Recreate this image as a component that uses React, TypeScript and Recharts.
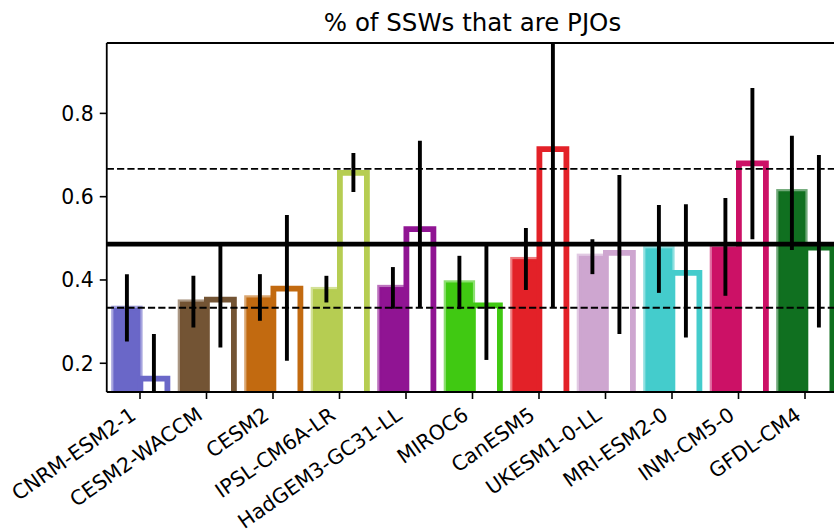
import React from "react";
import { BarChart, Bar, XAxis, YAxis, ErrorBar, ReferenceLine } from "recharts";

const MODELS = [
  "CNRM-ESM2-1",
  "CESM2-WACCM",
  "CESM2",
  "IPSL-CM6A-LR",
  "HadGEM3-GC31-LL",
  "MIROC6",
  "CanESM5",
  "UKESM1-0-LL",
  "MRI-ESM2-0",
  "INM-CM5-0",
  "GFDL-CM4",
];

const COLORS = [
  "#6a67c8",
  "#735434",
  "#c26a10",
  "#b6cd52",
  "#901493",
  "#40c912",
  "#e32128",
  "#cea6d0",
  "#44cccc",
  "#cc1166",
  "#107020",
];

// solid bars and their [low, high] error spans
const SOLID = [0.333, 0.348, 0.358, 0.378, 0.383, 0.394, 0.45, 0.458, 0.476, 0.479, 0.613];
const SOLID_ERR: [number, number][] = [
  [0.081, 0.081], [0.062, 0.062], [0.056, 0.056], [0.032, 0.032], [0.052, 0.048],
  [0.064, 0.064], [0.074, 0.075], [0.044, 0.04], [0.107, 0.104], [0.117, 0.118],
  [0.141, 0.133],
];

// hollow bars and their [low, high] error spans
const HOLLOW = [0.163, 0.353, 0.379, 0.657, 0.522, 0.339, 0.714, 0.465, 0.417, 0.68, 0.478];
const HOLLOW_ERR: [number, number][] = [
  [0.107, 0.107], [0.115, 0.129], [0.173, 0.177], [0.046, 0.048], [0.188, 0.212],
  [0.131, 0.143], [0.38, 0.38], [0.195, 0.187], [0.155, 0.165], [0.182, 0.181],
  [0.192, 0.222],
];

const Y_TICKS = [0.2, 0.4, 0.6, 0.8];
const Y_MIN = 0.131;
const Y_MAX = 0.969;
const MEAN_LINE = 0.486;
const THIRDS = [1 / 3, 2 / 3];

const FONT = "'DejaVu Sans', sans-serif";
const PLOT = { left: 106.75, top: 43, width: 731.5, height: 349 };

const data = MODELS.map((model, i) => ({
  model,
  solid: SOLID[i],
  solidErr: SOLID_ERR[i],
  hollow: HOLLOW[i],
  hollowErr: HOLLOW_ERR[i],
}));

function SolidShape(props: any) {
  const { x, y, width, height, index } = props;
  const c = COLORS[index];
  return (
    <rect
      x={x}
      y={y}
      width={width}
      height={height + 12}
      fill={c}
      stroke={c}
      strokeOpacity={0.6}
      strokeWidth={4.4}
    />
  );
}

function HollowShape(props: any) {
  const { x, y, width, height, index } = props;
  const bottom = y + height + 12;
  return (
    <path
      d={`M${x},${bottom} V${y} H${x + width} V${bottom}`}
      fill="none"
      stroke={COLORS[index]}
      strokeWidth={5.8}
      strokeLinejoin="miter"
    />
  );
}

function ModelTick(props: any) {
  const { x, payload } = props;
  return (
    <g transform={`translate(${x - 2.6},418)`}>
      <text
        textAnchor="end"
        transform="rotate(-35)"
        fontSize={20.4}
        fontFamily={FONT}
        fill="#000"
      >
        {payload.value}
      </text>
    </g>
  );
}

export default function App() {
  return (
    <div
      style={{
        position: "absolute",
        left: 0,
        top: 0,
        width: 834,
        height: 531,
        overflow: "hidden",
        background: "#fff",
      }}
    >
      <svg width={0} height={0} style={{ position: "absolute" }}>
        <defs>
          <clipPath id="plot-clip" clipPathUnits="userSpaceOnUse">
            <rect x={PLOT.left} y={PLOT.top} width={PLOT.width} height={PLOT.height} />
          </clipPath>
        </defs>
      </svg>
      <BarChart
        width={850}
        height={531}
        data={data}
        margin={{ top: 43, right: 11.75, bottom: 0, left: 0 }}
        barCategoryGap="10%"
        barGap={0}
      >
        <XAxis
          dataKey="model"
          interval={0}
          tick={(p: any) => <ModelTick {...p} />}
          tickSize={7}
          height={139}
          axisLine={{ stroke: "#000", strokeWidth: 1.8 }}
          tickLine={{ stroke: "#000", strokeWidth: 1.6 }}
        />
        <YAxis
          type="number"
          domain={[Y_MIN, Y_MAX]}
          ticks={Y_TICKS}
          allowDataOverflow
          width={106.75}
          tickSize={7}
          tickMargin={6}
          tickFormatter={(v: number) => v.toFixed(1)}
          tick={{ fill: "#000", fontSize: 20.4, fontFamily: FONT }}
          axisLine={{ stroke: "#000", strokeWidth: 1.8 }}
          tickLine={{ stroke: "#000", strokeWidth: 1.6 }}
        />
        <Bar dataKey="solid" isAnimationActive={false} shape={(p: any) => <SolidShape {...p} />}>
          <ErrorBar
            dataKey="solidErr"
            width={0}
            stroke="#000"
            strokeWidth={3.9}
            direction="y"
            clipPath="url(#plot-clip)"
          />
        </Bar>
        <Bar dataKey="hollow" isAnimationActive={false} shape={(p: any) => <HollowShape {...p} />}>
          <ErrorBar
            dataKey="hollowErr"
            width={0}
            stroke="#000"
            strokeWidth={3.9}
            direction="y"
            clipPath="url(#plot-clip)"
          />
        </Bar>
        {THIRDS.map((v) => (
          <ReferenceLine
            key={v}
            y={v}
            stroke="#000"
            strokeWidth={1.9}
            strokeDasharray="7.2 3.1"
          />
        ))}
        <ReferenceLine y={MEAN_LINE} stroke="#000" strokeWidth={4.9} />
        <ReferenceLine y={Y_MAX} stroke="#000" strokeWidth={1.8} />
      </BarChart>
      <svg
        width={834}
        height={531}
        style={{ position: "absolute", left: 0, top: 0, pointerEvents: "none" }}
      >
        <text x={472.5} y={30.7} textAnchor="middle" fontSize={24.5} fontFamily={FONT} fill="#000">
          % of SSWs that are PJOs
        </text>
      </svg>
    </div>
  );
}
